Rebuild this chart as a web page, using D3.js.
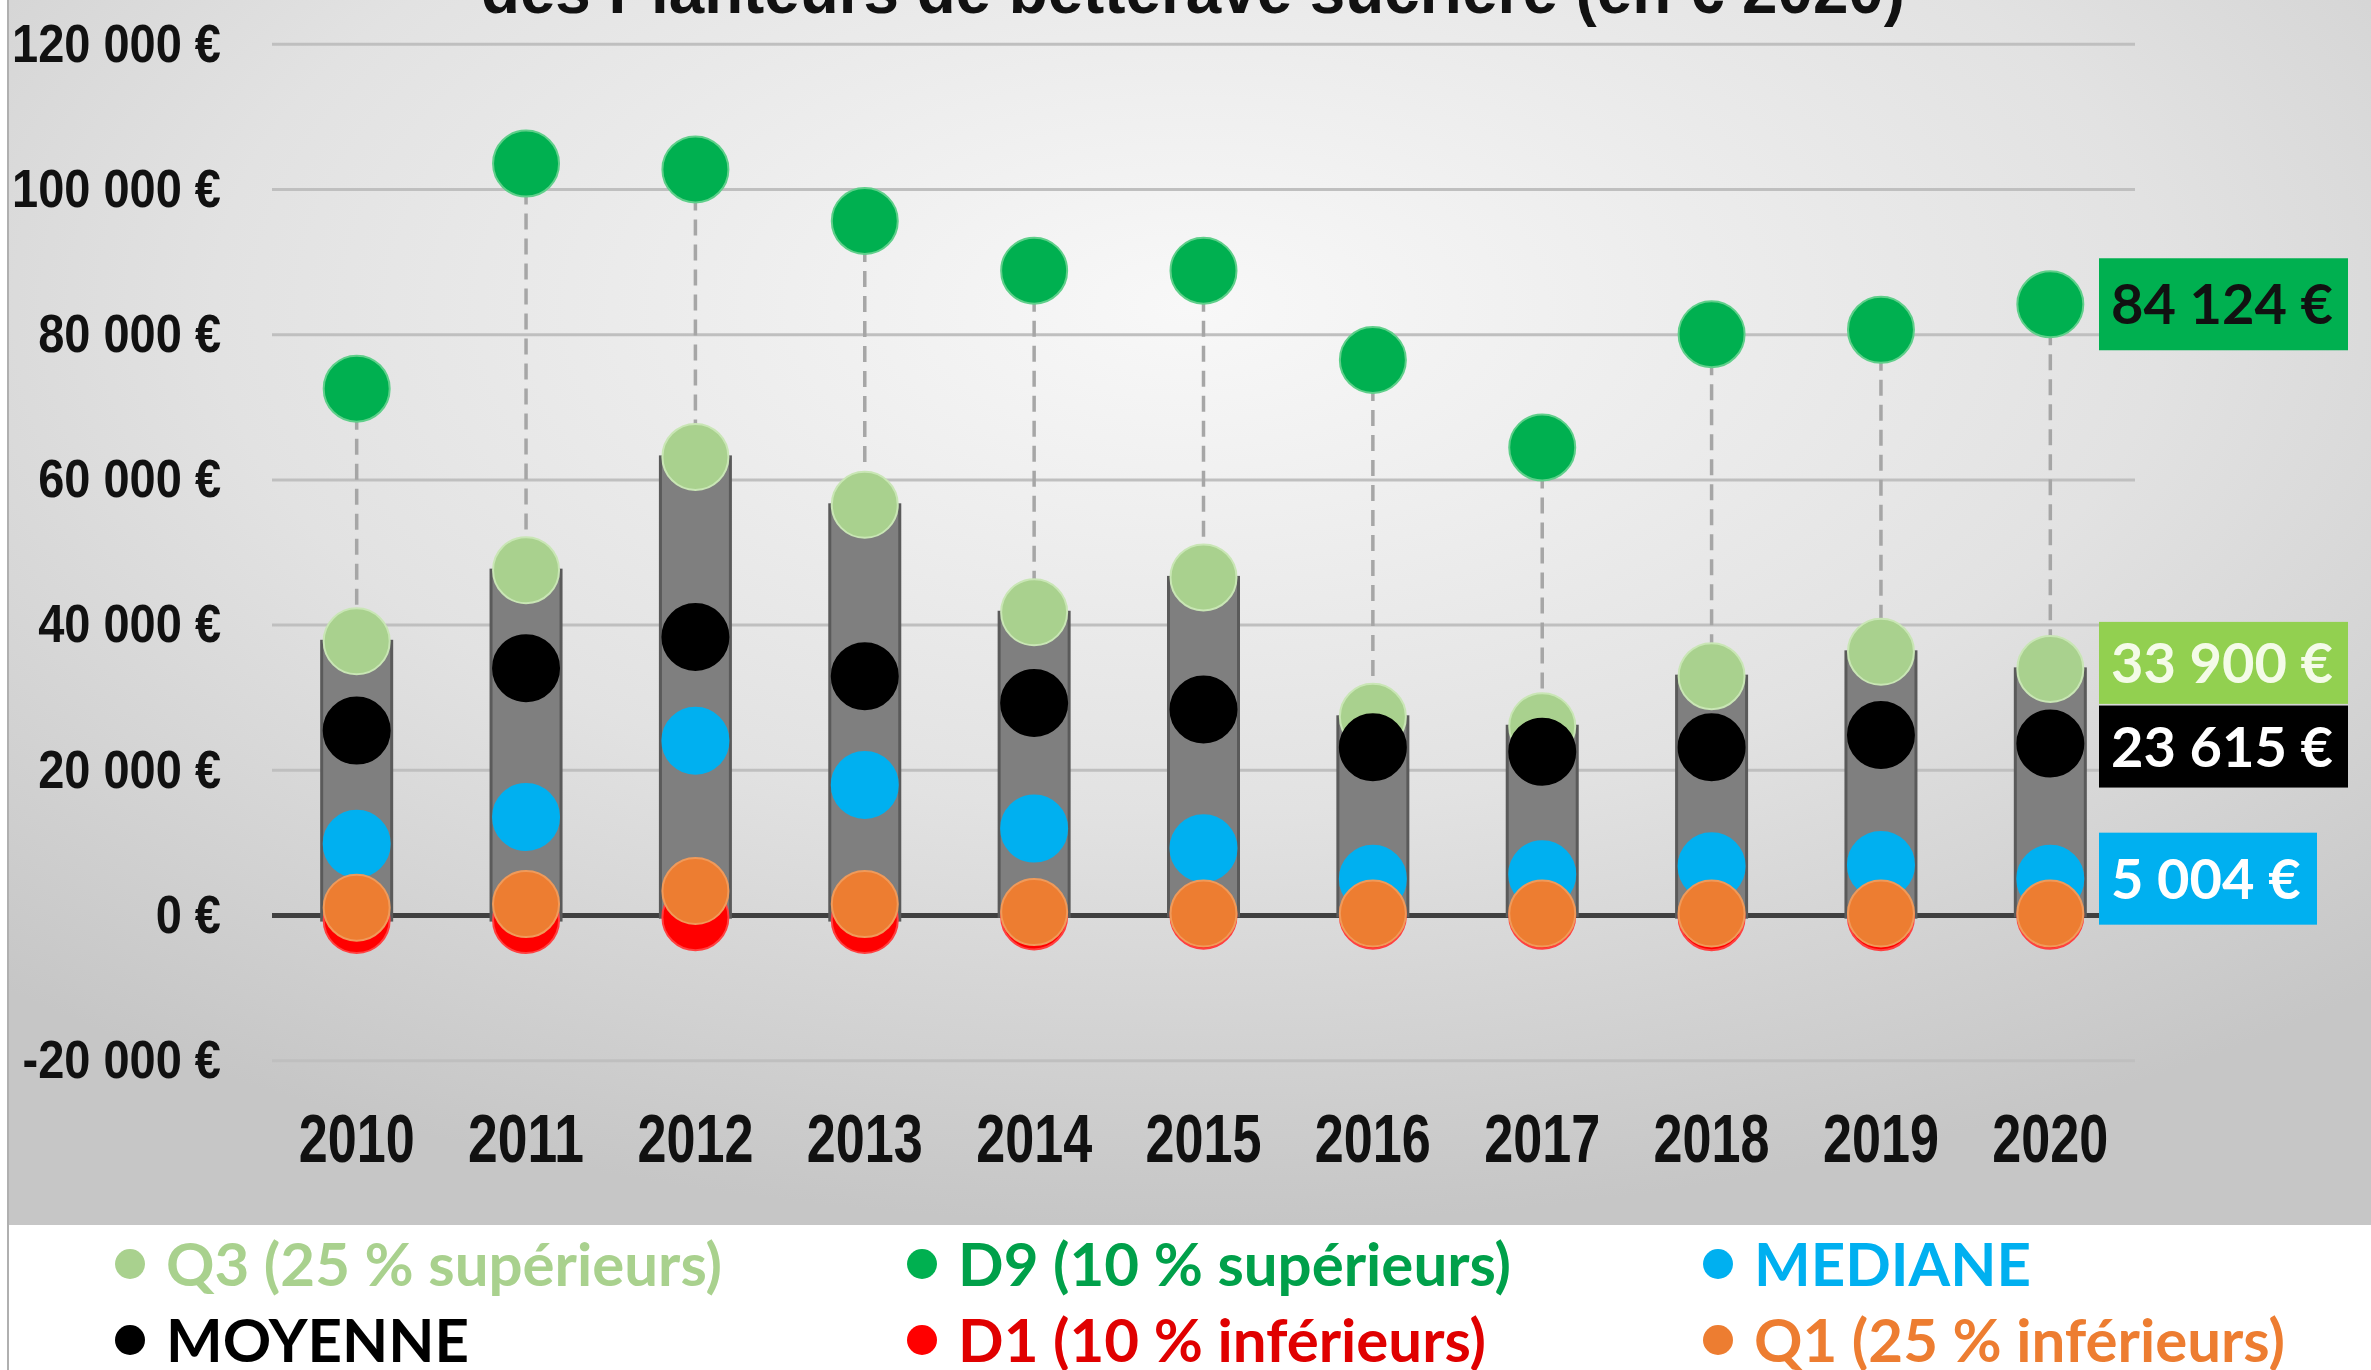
<!DOCTYPE html>
<html>
<head>
<meta charset="utf-8">
<script src="https://cdn.jsdelivr.net/npm/d3@7"></script>
<style>
    body { margin: 0; background: #fff; }
    svg { display: block; }
</style>
</head>
<body>
<div id="chart"></div>
<script>
// values (2020 ones are printed on it)
const years = [2010, 2011, 2012, 2013, 2014, 2015, 2016, 2017, 2018, 2019, 2020];
const d9Values = [72500, 103500, 102700, 95600, 88750, 88750, 76450, 64400, 80000, 80600, 84124];
const q3Values = [37700, 47500, 63100, 56500, 41700, 46500, 27300, 26000, 32900, 36250, 33900];
const meanValues = [25400, 34000, 38300, 32900, 29200, 28300, 23100, 22500, 23100, 24800, 23615];
const medianValues = [9800, 13500, 24000, 17900, 11900, 9200, 5000, 5600, 6700, 6900, 5004];
const d1Values = [-700, -700, -300, -700, -200, -100, -100, -100, -300, -300, -100];
const q1Values = [1000, 1500, 3300, 1500, 400, 200, 200, 200, 200, 200, 200];
const yTicks = [-20000, 0, 20000, 40000, 60000, 80000, 100000, 120000];
const titleText = "des Planteurs de betterave sucrière (en € 2020)";

const legendItems = [
    { label: "Q3 (25 % supérieurs)", color: "#a9d18e", text: "#a9d18e" },
    { label: "D9 (10 % supérieurs)", color: "#00b050", text: "#00a04a" },
    { label: "MEDIANE", color: "#00b0f0", text: "#00b0f0" },
    { label: "MOYENNE", color: "#000000", text: "#000000" },
    { label: "D1 (10 % inférieurs)", color: "#ff0000", text: "#e00000" },
    { label: "Q1 (25 % inférieurs)", color: "#ed7d31", text: "#ed7d31" },
];

const width = 2371;
const height = 1370;
const narrowFont = "'Liberation Sans Narrow', 'Arial Narrow', 'Liberation Sans', sans-serif";

const fr = d3.formatLocale({
    decimal: ",",
    thousands: "\u00a0",
    grouping: [3],
    currency: ["", "\u00a0€"],
    minus: "-",
});
const euro = fr.format("$,.0f");

// squeeze text horizontally (no narrow font installed)
function condense(selection, k) {
    selection.each(function () {
        const len = this.getComputedTextLength();
        d3.select(this)
            .attr("textLength", len * k)
            .attr("lengthAdjust", "spacingAndGlyphs");
    });
}

function drawChart() {
    const svg = d3
        .select("#chart")
        .append("svg")
        .attr("width", width)
        .attr("height", height)
        .attr("viewBox", [0, 0, width, height]);

    const defs = svg.append("defs");
    const grad = defs
        .append("radialGradient")
        .attr("id", "bg")
        .attr("cx", "50%")
        .attr("cy", "25%")
        .attr("r", "75%");
    grad.append("stop").attr("offset", "0%").attr("stop-color", "#f8f8f8");
    grad.append("stop").attr("offset", "55%").attr("stop-color", "#e2e2e2");
    grad.append("stop").attr("offset", "100%").attr("stop-color", "#c6c6c6");

    // background + legend strip
    svg.append("rect")
        .attr("width", width)
        .attr("height", height)
        .attr("fill", "#ffffff");
    svg.append("rect")
        .attr("x", 8)
        .attr("width", width - 8)
        .attr("height", 1225)
        .attr("fill", "url(#bg)");
    svg.append("line")
        .attr("x1", 8)
        .attr("x2", 8)
        .attr("y1", 0)
        .attr("y2", height)
        .attr("stroke", "#b0b0b0")
        .attr("stroke-width", 2);

    const x = d3
        .scaleBand()
        .domain(years)
        .range([272, 2135])
        .padding(0);
    const y = d3
        .scaleLinear()
        .domain([-20000, 120000])
        .range([1060.2, 43.8]);
    const cx = (i) => x(years[i]) + x.bandwidth() / 2;

    // Title (only its last line shows, cut at the top)
    svg.append("text")
        .attr("x", 1193)
        .attr("y", 13)
        .attr("text-anchor", "middle")
        .attr("font-family", narrowFont)
        .attr("font-weight", "bold")
        .attr("font-size", 66)
        .attr("textLength", 1424)
        .attr("lengthAdjust", "spacingAndGlyphs")
        .attr("fill", "#111")
        .text(titleText);

    // Gridlines
    svg.append("g")
        .attr("transform", "translate(272,0)")
        .call(
            d3
                .axisLeft(y)
                .tickValues(yTicks)
                .tickSize(-(2135 - 272))
                .tickFormat("")
        )
        .call((g) => g.select(".domain").remove())
        .call((g) =>
            g
                .selectAll(".tick line")
                .attr("stroke", (d) => (d === 0 ? "#404040" : "#bfbfbf"))
                .attr("stroke-width", (d) => (d === 0 ? 5 : 3))
        );

    // Y labels
    const yLab = svg.append("g")
        .attr("transform", "translate(221,0)")
        .call(
            d3
                .axisLeft(y)
                .tickValues(yTicks)
                .tickSize(0)
                .tickPadding(0)
                .tickFormat((d) => euro(d))
        )
        .call((g) => g.select(".domain").remove());
    yLab.selectAll("text")
        .attr("font-family", narrowFont)
        .attr("font-weight", "bold")
        .attr("font-size", 54)
        .attr("fill", "#111");
    const ref = yLab.selectAll("text").filter((d) => d === 120000).node();
    const k = 209 / ref.getComputedTextLength();
    yLab.selectAll("text").call(condense, k);

    // X labels
    const xLab = svg.append("g")
        .attr("transform", "translate(0,1114)")
        .call(d3.axisBottom(x).tickSize(0).tickPadding(0))
        .call((g) => g.select(".domain").remove());
    xLab.selectAll("text")
        .attr("font-family", narrowFont)
        .attr("font-weight", "bold")
        .attr("font-size", 68)
        .attr("fill", "#111")
        .attr("textLength", 116)
        .attr("lengthAdjust", "spacingAndGlyphs");

    const idx = d3.range(years.length);

    // Dashed lines Q3 -> D9
    svg.append("g")
        .selectAll("line")
        .data(idx)
        .join("line")
        .attr("x1", (i) => cx(i))
        .attr("x2", (i) => cx(i))
        .attr("y1", (i) => y(d9Values[i]))
        .attr("y2", (i) => y(q3Values[i]))
        .attr("stroke", "#a6a6a6")
        .attr("stroke-width", 3.5)
        .attr("stroke-dasharray", "16 9");

    // Grey "cylinders" from bottom dot to Q3
    const barW = 70;
    svg.append("g")
        .selectAll("rect")
        .data(idx)
        .join("rect")
        .attr("x", (i) => cx(i) - barW / 2)
        .attr("width", barW)
        .attr("y", (i) => y(q3Values[i]))
        .attr("height", (i) => y(Math.min(d1Values[i], q1Values[i])) - y(q3Values[i]))
        .attr("fill", "#7f7f7f")
        .attr("stroke", "#5a5a5a")
        .attr("stroke-width", 3);

    // Dots, drawn in this order so the overlaps look like the picture
    const series = [
        { values: d9Values, color: "#00b050", edge: "#5fcf8a" },
        { values: q3Values, color: "#a9d18e", edge: "#c9e6b5" },
        { values: meanValues, color: "#000000", edge: "#000000" },
        { values: medianValues, color: "#00b0f0", edge: "#00b0f0" },
        { values: d1Values, color: "#ff0000", edge: "#ff4040" },
        { values: q1Values, color: "#ed7d31", edge: "#f09a5a" },
    ];
    series.forEach((s) => {
        svg.append("g")
            .selectAll("circle")
            .data(idx)
            .join("circle")
            .attr("cx", (i) => cx(i))
            .attr("cy", (i) => y(s.values[i]))
            .attr("r", 33)
            .attr("fill", s.color)
            .attr("stroke", s.edge)
            .attr("stroke-width", 2);
    });

    // Value labels for 2020
    const last = years.length - 1;
    const tags = [
        { value: d9Values[last], bg: "#00b050", fg: "#111111", w: 249, top: -46, h: 92 },
        { value: q3Values[last], bg: "#92d050", fg: "#f4fbe8", w: 249, top: -47, h: 82 },
        { value: meanValues[last], bg: "#000000", fg: "#ffffff", w: 249, top: -38, h: 82 },
        { value: medianValues[last], bg: "#00b0f0", fg: "#ffffff", w: 218, top: -46, h: 92 },
    ];
    const tagG = svg.append("g")
        .selectAll("g")
        .data(tags)
        .join("g")
        .attr("transform", (d) => `translate(2099,${y(d.value)})`);
    tagG.append("rect")
        .attr("x", 0)
        .attr("y", (d) => d.top)
        .attr("width", (d) => d.w)
        .attr("height", (d) => d.h)
        .attr("fill", (d) => d.bg);
    tagG.append("text")
        .attr("x", 12)
        .attr("y", (d) => d.top + d.h / 2)
        .attr("dy", "0.36em")
        .attr("font-family", "Lato, 'Open Sans', sans-serif")
        .attr("font-weight", "bold")
        .attr("font-size", 56)
        .attr("fill", (d) => d.fg)
        .text((d) => euro(d.value));

    // Legend
    const legendX = [130, 922, 1718];
    const legendY = [1264, 1340];
    const leg = svg.append("g")
        .selectAll("g")
        .data(legendItems)
        .join("g")
        .attr("transform", (d, i) => `translate(${legendX[i % 3]},${legendY[Math.floor(i / 3)]})`);
    leg.append("circle")
        .attr("r", 15)
        .attr("fill", (d) => d.color);
    leg.append("text")
        .attr("x", 36)
        .attr("dy", "0.36em")
        .attr("font-family", "Lato, 'Open Sans', sans-serif")
        .attr("font-weight", "bold")
        .attr("font-size", 60)
        .attr("fill", (d) => d.text)
        .text((d) => d.label);
}

function main() {
    drawChart();
}

main();
</script>
</body>
</html>
